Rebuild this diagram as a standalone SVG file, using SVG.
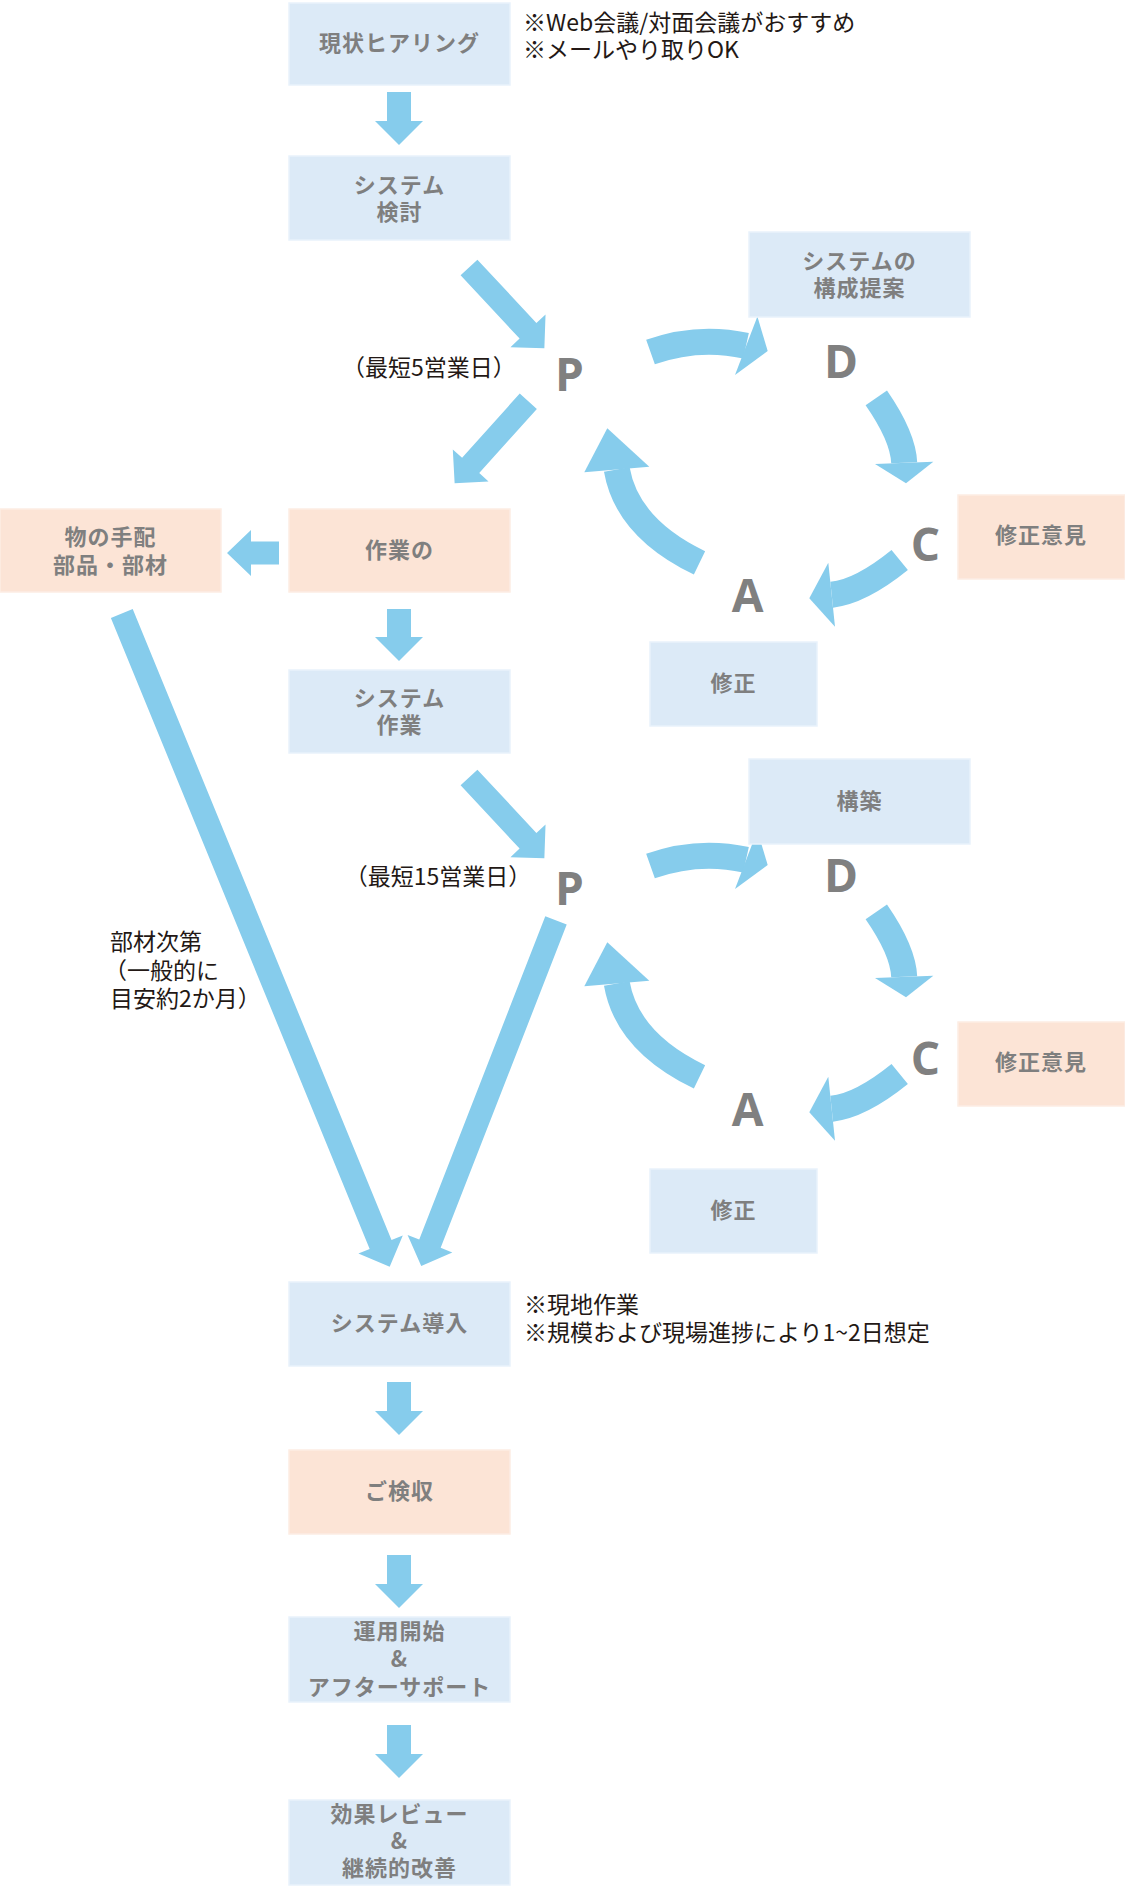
<svg xmlns="http://www.w3.org/2000/svg" xmlns:xlink="http://www.w3.org/1999/xlink" width="1125" height="1899" viewBox="0 0 1125 1899">
<style>
.blue{fill:#DCEAF7;stroke:#E9F2FB;stroke-width:1.5}
.peach{fill:#FCE4D6;stroke:#FDEDE4;stroke-width:1.5}
.bt{font-family:"Noto Sans CJK JP","Noto Sans",sans-serif;font-weight:700;font-size:22px;fill:#7f7f7f;text-anchor:middle;letter-spacing:1px}
.note{font-family:"Noto Sans CJK JP","Noto Sans",sans-serif;font-weight:400;font-size:23px;fill:#231815}
.ltr{font-family:"Open Sans","Noto Sans",sans-serif;font-weight:700;font-size:46px;fill:#808080;text-anchor:middle}
.arw{fill:#86CCEC}
.arc{fill:none;stroke:#86CCEC;stroke-width:26}
</style>
<defs>
<g id="cycle">
<path class="arc" d="M650.5,352 Q698.2,335.1 746,345.8"/>
<polygon class="arw" points="757.4,316.6 767.7,351 735,375"/>
<path class="arc" d="M876.3,397.8 Q903.2,436.7 904.2,462.8"/>
<polygon class="arw" points="875,464 906,483.3 933.3,461.7"/>
<path class="arc" d="M899.7,560 Q860.5,591.7 831.7,594.7"/>
<polygon class="arw" points="828.3,562.7 809.3,598.3 835,626.7"/>
<path class="arc" d="M699.5,562.9 Q627,528 616.8,469.5"/>
<polygon class="arw" points="584.3,472.3 607.3,428.3 649.3,466.7"/>
</g>
</defs>
<rect width="1125" height="1899" fill="#ffffff"/>
<g id="connectors">
<path class="arw" transform="translate(399,92) rotate(90)" d="M0,-12 H29 V-24 L53,0 L29,24 V12 H0 Z"/>
<path class="arw" transform="translate(469,267.5) rotate(47)" d="M0,-11.5 H86.5 V-24 L110.5,0 L86.5,24 V11.5 H0 Z"/>
<path class="arw" transform="translate(528.3,401.2) rotate(131.9)" d="M0,-11.5 H86.3 V-24 L110.3,0 L86.3,24 V11.5 H0 Z"/>
<path class="arw" transform="translate(279,553) rotate(180)" d="M0,-11.5 H28 V-23 L52,0 L28,23 V11.5 H0 Z"/>
<path class="arw" transform="translate(399,609) rotate(90)" d="M0,-12 H28 V-24 L52,0 L28,24 V12 H0 Z"/>
<path class="arw" transform="translate(121.8,613.5) rotate(67.7)" d="M0,-11.8 H682 V-24 L706,0 L682,24 V11.8 H0 Z"/>
<path class="arw" transform="translate(469,777.5) rotate(47)" d="M0,-11.5 H86.5 V-24 L110.5,0 L86.5,24 V11.5 H0 Z"/>
<path class="arw" transform="translate(556,920.4) rotate(111.3)" d="M0,-11.5 H347 V-24 L371,0 L347,24 V11.5 H0 Z"/>
<path class="arw" transform="translate(399,1382) rotate(90)" d="M0,-12 H29 V-24 L53,0 L29,24 V12 H0 Z"/>
<path class="arw" transform="translate(399,1555) rotate(90)" d="M0,-12 H29 V-24 L53,0 L29,24 V12 H0 Z"/>
<path class="arw" transform="translate(399,1725) rotate(90)" d="M0,-12 H29 V-24 L53,0 L29,24 V12 H0 Z"/>
<use xlink:href="#cycle" href="#cycle"/>
<use xlink:href="#cycle" href="#cycle" y="514"/>
</g>
<g id="n-hearing"><rect class="blue" x="289" y="3" width="221" height="82"/><text class="bt" x="399.5" y="51">現状ヒアリング</text></g>
<g id="note-hearing"><text class="note" x="523" y="31">※Web会議/対面会議がおすすめ</text><text class="note" x="523" y="58">※メールやり取りOK</text></g>
<g id="n-kentou"><rect class="blue" x="289" y="156" width="221" height="84"/><text class="bt" x="399.5" y="192.5">システム</text><text class="bt" x="399.5" y="219.5">検討</text></g>
<g id="n-teian"><rect class="blue" x="749" y="232" width="221" height="85"/><text class="bt" x="859.5" y="269">システムの</text><text class="bt" x="859.5" y="296">構成提案</text></g>
<g id="label-5days"><text class="note" x="429" y="376" text-anchor="middle">（最短5営業日）</text></g>
<g id="pdca1"><text class="ltr" x="569.5" y="391">P</text><text class="ltr" x="841" y="378">D</text><text class="ltr" x="925.5" y="561">C</text><text class="ltr" x="747.5" y="612">A</text></g>
<g id="n-iken1"><rect class="peach" x="958" y="495" width="167" height="84"/><text class="bt" x="1041" y="543">修正意見</text></g>
<g id="n-shusei1"><rect class="blue" x="650" y="642" width="167" height="84"/><text class="bt" x="733.5" y="690.5">修正</text></g>
<g id="n-sagyou"><rect class="peach" x="289" y="509" width="221" height="83"/><text class="bt" x="399.5" y="558">作業の</text></g>
<g id="n-tehai"><rect class="peach" x="0" y="509" width="221" height="83"/><text class="bt" x="110.5" y="544.5">物の手配</text><text class="bt" x="110.5" y="572.5">部品・部材</text></g>
<g id="n-syssagyou"><rect class="blue" x="289" y="670" width="221" height="83"/><text class="bt" x="399.5" y="705.5">システム</text><text class="bt" x="399.5" y="733">作業</text></g>
<g id="n-kouchiku"><rect class="blue" x="749" y="759" width="221" height="85"/><text class="bt" x="859.5" y="809">構築</text></g>
<g id="label-15days"><text class="note" x="438" y="885" text-anchor="middle">（最短15営業日）</text></g>
<g id="pdca2"><text class="ltr" x="569.5" y="905">P</text><text class="ltr" x="841" y="892">D</text><text class="ltr" x="925.5" y="1075">C</text><text class="ltr" x="747.5" y="1126">A</text></g>
<g id="n-iken2"><rect class="peach" x="958" y="1022" width="167" height="84"/><text class="bt" x="1041" y="1070">修正意見</text></g>
<g id="n-shusei2"><rect class="blue" x="650" y="1169" width="167" height="84"/><text class="bt" x="733.5" y="1217.5">修正</text></g>
<g id="label-buzai"><text class="note" x="110" y="950">部材次第</text><text class="note" x="104" y="978.5">（一般的に</text><text class="note" x="110" y="1006.5">目安約2か月）</text></g>
<g id="n-dounyuu"><rect class="blue" x="289" y="1282" width="221" height="84"/><text class="bt" x="399.5" y="1330.5">システム導入</text></g>
<g id="note-dounyuu"><text class="note" x="524" y="1313">※現地作業</text><text class="note" x="524" y="1341">※規模および現場進捗により1~2日想定</text></g>
<g id="n-kenshu"><rect class="peach" x="289" y="1450" width="221" height="84"/><text class="bt" x="399.5" y="1499">ご検収</text></g>
<g id="n-unyou"><rect class="blue" x="289" y="1617" width="221" height="85"/><text class="bt" x="399.5" y="1639">運用開始</text><text class="bt" x="399.5" y="1667">&amp;</text><text class="bt" x="399.5" y="1695">アフターサポート</text></g>
<g id="n-kouka"><rect class="blue" x="289" y="1800" width="221" height="85"/><text class="bt" x="399.5" y="1822">効果レビュー</text><text class="bt" x="399.5" y="1849">&amp;</text><text class="bt" x="399.5" y="1876">継続的改善</text></g>
</svg>
